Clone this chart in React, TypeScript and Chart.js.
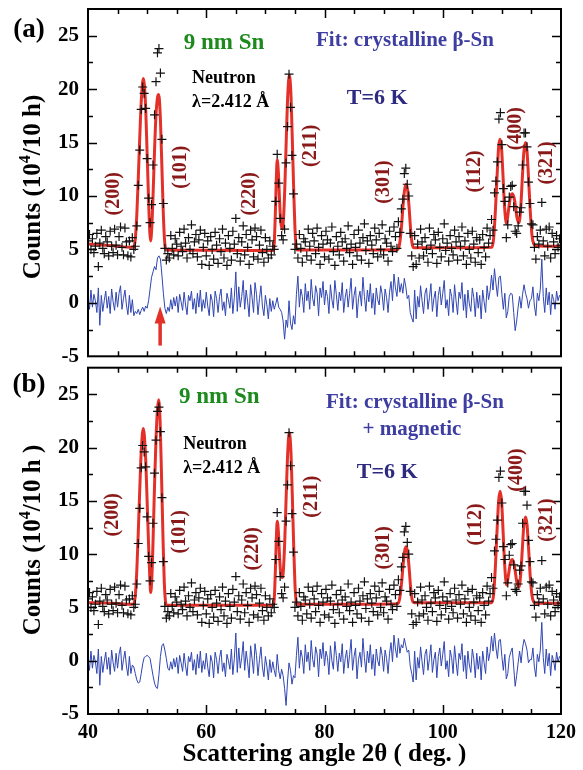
import React, { useEffect, useRef } from "react";
import { Chart, registerables } from "chart.js";

Chart.register(...registerables);

// ---------------- data ----------------
// scan grid: 40 deg to 120 deg in 0.25 deg steps
const SCAN_START = 40;
const SCAN_STEP = 0.25;

// observed neutron counts (10^4 / 10 h) - same measurement in both panels
const observed = [
  5.8, 6.4, 5.0, 6.0, 4.7, 5.3, 6.5, 3.4, 5.6, 6.8, 5.1, 4.6, 6.2, 5.7, 4.4, 6.7, 5.3, 4.7, 6.9, 5.4,
  4.5, 6.2, 7.1, 5.2, 4.5, 7.0, 5.7, 4.4, 5.8, 4.3, 6.1, 5.0, 5.3, 7.2, 11.0, 14.3, 18.1, 20.2, 19.6, 18.2,
  13.5, 9.8, 7.5, 9.2, 12.9, 17.6, 20.7, 23.4, 23.8, 21.5, 15.3, 9.3, 5.1, 4.0, 4.6, 4.2, 6.3, 5.1, 4.5, 6.0,
  5.5, 4.4, 6.6, 5.3, 4.8, 6.9, 5.6, 4.2, 6.1, 5.0, 7.3, 4.6, 5.7, 6.4, 4.3, 5.9, 6.8, 3.6, 5.2, 6.5,
  4.4, 5.8, 3.5, 6.2, 5.0, 4.1, 6.6, 5.4, 3.7, 6.0, 4.8, 6.9, 4.2, 5.6, 3.5, 6.3, 5.1, 4.0, 6.7, 5.5,
  7.9, 4.6, 6.1, 3.9, 5.7, 7.2, 4.5, 6.4, 5.2, 3.6, 6.8, 5.9, 4.3, 7.0, 6.2, 4.1, 5.4, 6.8, 4.7, 3.8,
  6.1, 5.0, 4.2, 5.8, 4.5, 5.3, 5.0, 9.5, 13.9, 11.2, 7.9, 6.3, 5.9, 6.9, 13.1, 16.5, 21.4, 18.3, 13.8, 10.2,
  5.0, 5.5, 4.2, 6.4, 5.1, 3.8, 6.0, 5.7, 4.4, 6.9, 5.3, 4.0, 6.5, 5.8, 4.6, 7.0, 5.2, 3.6, 6.3, 5.5,
  4.3, 6.7, 5.9, 4.1, 5.6, 7.1, 4.8, 3.5, 6.2, 5.3, 4.5, 6.6, 5.7, 3.9, 6.0, 5.1, 7.2, 4.7, 5.5, 3.6,
  6.4, 5.2, 4.4, 6.8, 5.6, 4.0, 6.1, 7.4, 4.9, 5.8, 3.7, 6.3, 5.4, 4.6, 7.0, 5.9, 4.3, 6.5, 5.0, 7.3,
  4.5, 6.0, 5.6, 3.9, 6.7, 5.3, 4.8, 7.1, 6.2, 5.1, 7.6, 6.6, 8.8, 9.7, 12.1, 12.6, 11.1, 10.0, 6.5, 4.4,
  3.4, 6.3, 3.6, 5.5, 4.2, 6.9, 5.7, 4.4, 6.1, 5.0, 3.8, 7.0, 5.4, 4.6, 6.4, 5.9, 3.7, 6.6, 5.2, 4.3,
  6.0, 7.4, 4.9, 5.6, 3.9, 6.3, 5.1, 4.5, 6.8, 5.7, 4.0, 6.2, 5.3, 7.1, 4.4, 5.8, 3.6, 6.5, 5.0, 4.2,
  6.7, 5.5, 3.8, 6.1, 4.7, 5.9, 3.6, 6.4, 5.2, 4.3, 7.0, 5.6, 6.3, 7.8, 6.8, 10.3, 11.4, 13.2, 17.2, 17.8,
  14.8, 10.7, 9.5, 6.1, 7.3, 9.9, 10.9, 11.0, 9.0, 6.7, 6.5, 7.2, 8.5, 8.9, 12.9, 15.9, 15.9, 14.6, 11.3, 9.3,
  7.4, 7.3, 5.2, 4.1, 6.2, 5.5, 6.8, 9.4, 5.8, 4.4, 6.9, 5.3, 7.1, 4.2, 6.5, 5.7, 4.6, 6.3, 5.2, 6.0,
  5.4,
];

// difference curve (obs - calc), panel (a)
const differenceA = [
  0.3, -0.6, 1.2, -0.4, 0.8, 0.2, -0.9, 1.4, -2.1, 0.7, -0.8, 0.2, 1.1, -0.5, 0.6, -1.0, 1.3, 0.1, -0.7, 1.0,
  -0.4, 0.9, 1.6, -0.6, 0.4, 1.2, -0.2, -1.1, 0.7, -0.9, 0.3, -1.2, -0.8, -1.0, -0.6, -1.1, -0.7, -0.4, -0.8, -0.3,
  -0.5, 0.2, 1.3, 2.4, 2.9, 3.4, 3.1, 4.2, 4.4, 4.1, 2.6, 0.9, -0.5, -1.0, -0.4, -0.8, 0.3, -0.6, 0.5, -0.3,
  0.6, -0.9, 0.8, 0.1, -0.7, 1.0, -0.2, -1.1, 0.7, 0.2, 1.1, -0.6, 0.4, -1.0, 0.9, -0.4, 1.2, -0.8, 0.3, -0.5,
  1.0, -0.3, -1.2, 0.8, 0.2, -1.3, 1.1, 0.4, -0.9, 0.6, 1.3, -0.7, 0.1, -1.2, 0.9, 0.3, -0.5, 1.4, -1.0, 0.5,
  2.9, -0.8, 1.5, -0.4, 0.6, 2.1, -0.6, 1.2, 0.1, -1.3, 1.7, 0.5, -0.9, 1.9, 0.8, -1.1, 0.4, 1.6, -0.3, -1.2,
  0.7, -0.2, -1.5, 0.4, -0.8, 0.2, -0.6, -0.1, 0.5, -0.4, -0.6, -0.9, -1.7, -3.4, -1.6, -2.3, 0.2, -1.9, -2.5, -1.2,
  -2.0, 0.8, 2.5, -0.4, 1.3, 0.6, -0.9, 1.8, 0.2, 1.1, -0.6, 2.2, 0.4, -0.3, 1.6, 0.9, -1.2, 1.4, 0.5, 2.0,
  -0.2, 1.2, 0.6, -1.0, 1.7, 0.3, -0.5, 2.1, 0.8, -0.7, 1.0, 0.2, 1.9, -0.9, 0.5, 1.3, -0.4, 0.9, 2.3, -0.6,
  0.7, 1.5, -1.4, 0.4, 1.1, -0.3, 2.4, 0.6, -0.8, 1.2, 0.1, 1.8, -0.5, 0.9, -1.1, 1.4, 0.3, -0.2, 1.6, 0.8,
  -0.7, 1.3, 0.5, -0.9, 1.0, 2.0, 0.2, 2.7, 1.4, 0.6, 2.4, 1.0, 1.8, 0.9, 2.3, 1.5, 0.4, 0.7, -0.9, -1.4,
  -1.8, 1.2, -1.5, 0.6, -0.4, 1.6, 0.2, -1.0, 0.9, 1.4, -0.6, 0.5, 1.8, -0.8, 0.4, 1.1, -1.3, 0.7, 1.5, -0.2,
  0.9, 2.1, -0.5, 0.3, -1.2, 1.3, 0.6, -0.9, 1.7, 0.2, -1.1, 1.0, 0.4, 1.9, -0.7, 0.8, -1.4, 1.2, -0.1, -0.8,
  1.4, 0.5, -1.3, 1.0, -0.5, 0.7, -1.5, 1.2, 0.1, -0.9, 1.6, 0.3, 1.1, 2.6, 1.2, 3.2, 1.8, 0.6, 2.4, 2.5,
  0.8, -0.6, 0.9, -1.4, -0.8, 0.6, 0.9, 0.8, -0.9, -2.6, -1.7, -0.4, 0.6, -0.5, 0.8, 1.7, 0.9, 0.4, -0.5, 0.2,
  0.4, 1.5, -0.3, -1.2, 0.9, 0.2, 1.3, 4.1, 0.6, -0.9, 1.4, -0.2, 1.0, -1.1, 0.8, 0.3, -0.6, 1.1, 0.2, 0.7,
  0.5,
];

// difference curve (obs - calc), panel (b)
const differenceB = [
  0.0, -0.9, 0.9, -0.7, 0.5, -0.1, -1.2, 1.1, -2.3, 0.4, -1.1, -0.1, 0.8, -0.8, 0.3, -1.3, 1.0, -0.2, -1.0, 0.7,
  -0.7, 0.6, 1.3, -0.9, 0.1, 0.9, -0.5, -1.4, 0.4, -1.2, -0.4, -0.6, -1.2, -1.8, -2.1, -2.0, -1.2, -0.3, 0.3, 0.4,
  0.5, 0.4, 0.2, -0.6, -1.4, -2.1, -2.5, -2.6, -1.3, 0.4, 1.4, 1.6, 1.0, 0.2, -0.7, -0.9, -0.1, -0.8, 0.2, -0.6,
  0.3, -1.2, 0.5, -0.2, -1.0, 0.7, -0.5, -1.4, 0.4, -0.1, 0.8, -0.9, 0.1, -1.3, 0.6, -0.7, 0.9, -1.1, 0.0, -0.8,
  0.7, -0.6, -1.5, 0.5, -0.1, -1.6, 0.8, 0.1, -1.2, 0.3, 1.0, -1.0, -0.2, -1.5, 0.6, 0.0, -0.8, 1.1, -1.3, 0.2,
  2.6, -1.1, 1.2, -0.7, 0.3, 1.8, -0.9, 0.9, -0.2, -1.6, 1.4, 0.2, -1.2, 1.6, 0.5, -1.4, 0.1, 1.3, -0.6, -1.5,
  0.4, -0.5, -1.8, 0.1, -1.1, -0.1, -0.9, -1.5, 0.6, -0.9, -1.7, -0.8, -1.4, -2.6, -4.2, -1.9, -0.2, -0.9, -2.2, -1.4,
  -1.6, 0.5, 2.2, -0.7, 1.0, 0.3, -1.2, 1.5, -0.1, 0.8, -0.9, 1.9, 0.1, -0.6, 1.3, 0.6, -1.5, 1.1, 0.2, 1.7,
  -0.5, 0.9, 0.3, -1.3, 1.4, 0.0, -0.8, 1.8, 0.5, -1.0, 0.7, -0.1, 1.6, -1.2, 0.2, 1.0, -0.7, 0.6, 2.0, -0.9,
  0.4, 1.2, -1.7, 0.1, 0.8, -0.6, 2.1, 0.3, -1.1, 0.9, -0.2, 1.5, -0.8, 0.6, -1.4, 1.1, 0.0, -0.5, 1.3, 0.5,
  -1.0, 1.0, 0.2, -1.2, 0.7, 1.7, -0.1, 2.4, 1.1, 0.3, 2.1, 0.7, 1.5, 1.2, 2.1, 1.4, 0.8, 1.0, -0.5, -1.2,
  -2.0, 0.9, -1.8, 0.3, -0.7, 1.3, -0.1, -1.3, 0.6, 1.1, -0.9, 0.2, 1.5, -1.1, 0.1, 0.8, -1.6, 0.4, 1.2, -0.5,
  0.6, 1.8, -0.8, 0.0, -1.5, 1.0, 0.3, -1.2, 1.4, -0.1, -1.4, 0.7, 0.1, 1.6, -1.0, 0.5, -1.7, 0.9, -0.4, -1.1,
  1.1, 0.2, -1.6, 0.7, -0.8, 0.4, -1.8, 0.9, -0.2, -1.2, 1.3, 0.0, 0.8, 2.3, 0.9, 2.6, 1.2, 0.2, 1.9, 2.0,
  0.4, -0.9, 0.6, -1.7, -1.2, 0.3, 0.8, 1.2, -0.6, -2.4, -1.4, -0.2, 0.9, -0.2, 1.2, 2.0, 1.6, 1.0, -0.2, 0.1,
  0.1, 1.2, -0.6, -1.5, 0.6, -0.1, 1.0, 3.6, 0.3, -1.2, 1.1, -0.5, 0.7, -1.4, 0.5, 0.0, -0.9, 0.8, -0.1, 0.4,
  0.2,
];

// fitted profile, panel (a): [angle, counts]
const fitA: [number, number][] = [
  [40, 5.5], [44, 5.35], [47.5, 5.2], [47.75, 5.25], [48.0, 6.0], [48.25, 8.2], [48.5, 11.6], [48.75, 15.4],
  [49.0, 18.8], [49.35, 21.0], [49.7, 18.9], [50.0, 14.0], [50.25, 9.6], [50.45, 6.6], [50.6, 5.8], [50.8, 7.2],
  [51.0, 10.0], [51.25, 14.2], [51.5, 17.6], [51.75, 19.2], [51.95, 19.5], [52.2, 17.8], [52.45, 13.6], [52.7, 9.0],
  [52.9, 6.3], [53.1, 5.1], [53.3, 4.95], [62, 4.92], [71.3, 4.9], [71.5, 5.6], [71.7, 8.6], [71.85, 11.6],
  [72.0, 13.4], [72.2, 12.2], [72.4, 9.6], [72.6, 7.6], [72.9, 6.9], [73.1, 8.2], [73.3, 11.0], [73.55, 15.6],
  [73.8, 19.6], [74.05, 21.3], [74.3, 19.8], [74.55, 15.4], [74.8, 10.4], [75.0, 7.0], [75.2, 5.3], [75.4, 4.95],
  [84, 4.95], [92.4, 5.0], [92.7, 5.5], [93.0, 7.0], [93.3, 9.2], [93.55, 10.6], [93.8, 11.1], [94.05, 10.6],
  [94.3, 9.0], [94.55, 7.0], [94.8, 5.6], [95.0, 5.2], [95.2, 5.15], [102, 5.15], [108.3, 5.2], [108.6, 6.0],
  [108.9, 8.6], [109.2, 12.0], [109.45, 14.6], [109.7, 15.3], [109.95, 14.4], [110.2, 11.8], [110.45, 9.0], [110.8, 7.4],
  [111.1, 8.6], [111.45, 9.9], [111.8, 10.2], [112.15, 9.6], [112.55, 8.0], [112.9, 7.5], [113.2, 9.0], [113.45, 11.6],
  [113.7, 14.0], [114.0, 15.0], [114.25, 14.2], [114.5, 11.8], [114.8, 8.6], [115.1, 6.3], [115.4, 5.5], [115.7, 5.35],
  [120, 5.3],
];

// fitted profile, panel (b): [angle, counts]
const fitB: [number, number][] = [
  [40, 5.45], [44, 5.4], [47.5, 5.3], [47.75, 5.35], [48.0, 6.1], [48.25, 8.4], [48.5, 12.0], [48.75, 16.0],
  [49.0, 19.6], [49.35, 21.8], [49.7, 19.6], [50.0, 15.0], [50.25, 10.8], [50.45, 7.8], [50.6, 6.4], [50.8, 7.8],
  [51.0, 11.2], [51.25, 16.4], [51.5, 20.8], [51.75, 23.6], [51.95, 24.5], [52.2, 22.4], [52.45, 17.0], [52.7, 11.2],
  [52.9, 7.4], [53.1, 5.6], [53.3, 5.2], [62, 5.2], [71.3, 5.2], [71.5, 5.8], [71.7, 8.6], [71.85, 11.4],
  [72.0, 13.1], [72.2, 12.1], [72.4, 9.8], [72.6, 8.2], [72.9, 7.8], [73.1, 9.0], [73.3, 11.6], [73.55, 16.0],
  [73.8, 19.8], [74.05, 21.4], [74.3, 19.9], [74.55, 15.6], [74.8, 10.6], [75.0, 7.2], [75.2, 5.6], [75.4, 5.3],
  [84, 5.3], [92.4, 5.35], [92.7, 5.8], [93.0, 7.1], [93.3, 9.0], [93.55, 10.3], [93.8, 10.7], [94.05, 10.2],
  [94.3, 8.8], [94.55, 7.0], [94.8, 5.8], [95.0, 5.5], [95.2, 5.45], [102, 5.45], [108.3, 5.45], [108.6, 6.2],
  [108.9, 8.8], [109.2, 12.4], [109.45, 15.0], [109.7, 15.9], [109.95, 15.0], [110.2, 12.2], [110.45, 9.2], [110.8, 7.1],
  [111.1, 8.0], [111.45, 9.2], [111.8, 9.5], [112.15, 8.8], [112.55, 7.3], [112.9, 6.9], [113.2, 8.2], [113.45, 10.4],
  [113.7, 12.6], [114.0, 13.5], [114.25, 12.8], [114.5, 10.7], [114.8, 7.9], [115.1, 6.1], [115.4, 5.5], [115.7, 5.4],
  [120, 5.4],
];

// reflection labels
const reflections = ["(200)", "(101)", "(220)", "(211)", "(301)", "(112)", "(400)", "(321)"];

// ---------------- styling / layout ----------------
const SERIF = '"Liberation Serif", "Times New Roman", Times, serif';
const RED = "#e3312a";
const DIFF_BLUE = "#3046b2";
const GREEN = "#1c8a1c";
const FIT_BLUE = "#3d3da2";
const NAVY = "#2d2a80";
const PEAK_RED = "#8a1a1a";

type Ann = { text: string; x: number; y: number; color: string; size: number; align?: CanvasTextAlign };

const textA: Ann[] = [
  { text: "9 nm Sn", x: 63.0, y: 24.3, color: GREEN, size: 23 },
  { text: "Neutron", x: 57.6, y: 21.0, color: "#000", size: 18, align: "left" },
  { text: "λ=2.412 Å", x: 57.6, y: 18.8, color: "#000", size: 18, align: "left" },
  { text: "Fit: crystalline β-Sn", x: 93.6, y: 24.5, color: FIT_BLUE, size: 21 },
  { text: "T=6 K", x: 88.9, y: 19.1, color: NAVY, size: 22 },
];
const textB: Ann[] = [
  { text: "9 nm Sn", x: 62.2, y: 24.7, color: GREEN, size: 23 },
  { text: "Neutron", x: 56.1, y: 20.3, color: "#000", size: 18, align: "left" },
  { text: "λ=2.412 Å", x: 56.1, y: 18.1, color: "#000", size: 18, align: "left" },
  { text: "Fit: crystalline β-Sn", x: 95.3, y: 24.2, color: FIT_BLUE, size: 21 },
  { text: "+ magnetic", x: 94.8, y: 21.7, color: FIT_BLUE, size: 21 },
  { text: "T=6 K", x: 90.6, y: 17.7, color: NAVY, size: 22 },
];
const peakPosA: [number, number][] = [
  [44.4, 10.2], [55.7, 12.7], [67.4, 10.2], [77.7, 14.7], [90.1, 11.3], [105.5, 12.3], [112.4, 16.3], [117.6, 13.1],
];
const peakPosB: [number, number][] = [
  [44.2, 13.7], [55.6, 12.1], [67.9, 10.5], [77.9, 15.4], [90.1, 10.6], [105.6, 12.8], [112.6, 17.9], [117.6, 13.2],
];

type Decor = {
  texts: Ann[];
  peaks: [number, number][];
  panelLabel: string;
  panelLabelAt: [number, number];
  yTitle: [string, string, string];
  yTitleAt: [number, number];
  arrow?: { x: number; tip: number; tail: number };
};

function decorPlugin(d: Decor) {
  return {
    id: "decor",
    afterDraw(chart: any) {
      const { ctx, chartArea: a, scales } = chart;
      const sx = scales.x;
      const sy = scales.y;
      ctx.save();
      // frame
      ctx.strokeStyle = "#000";
      ctx.lineWidth = 2;
      ctx.strokeRect(a.left, a.top, a.right - a.left, a.bottom - a.top);
      // inward ticks
      ctx.lineWidth = 1.5;
      ctx.beginPath();
      for (let v = 45; v < 120; v += 5) {
        const px = Math.round(sx.getPixelForValue(v)) + 0.5;
        const L = v % 20 === 0 ? 9 : 5;
        ctx.moveTo(px, a.bottom);
        ctx.lineTo(px, a.bottom - L);
        ctx.moveTo(px, a.top);
        ctx.lineTo(px, a.top + L);
      }
      for (let v = -2.5; v <= 25.01; v += 2.5) {
        const py = Math.round(sy.getPixelForValue(v)) + 0.5;
        const L = Math.abs(v % 5) < 0.01 ? 9 : 5;
        ctx.moveTo(a.left, py);
        ctx.lineTo(a.left + L, py);
        ctx.moveTo(a.right, py);
        ctx.lineTo(a.right - L, py);
      }
      ctx.stroke();

      // annotations
      ctx.textBaseline = "middle";
      for (const t of d.texts) {
        ctx.font = `bold ${t.size}px ${SERIF}`;
        ctx.fillStyle = t.color;
        ctx.textAlign = t.align || "center";
        ctx.fillText(t.text, sx.getPixelForValue(t.x), sy.getPixelForValue(t.y));
      }
      // reflection labels (rotated)
      ctx.font = `bold 20px ${SERIF}`;
      ctx.fillStyle = PEAK_RED;
      ctx.textAlign = "center";
      d.peaks.forEach((p, i) => {
        ctx.save();
        ctx.translate(sx.getPixelForValue(p[0]), sy.getPixelForValue(p[1]));
        ctx.rotate(-Math.PI / 2);
        ctx.fillText(reflections[i], 0, 0);
        ctx.restore();
      });

      // arrow
      if (d.arrow) {
        const ax = sx.getPixelForValue(d.arrow.x);
        const tipY = sy.getPixelForValue(d.arrow.tip);
        const tailY = sy.getPixelForValue(d.arrow.tail);
        ctx.strokeStyle = RED;
        ctx.fillStyle = RED;
        ctx.lineWidth = 3.5;
        ctx.beginPath();
        ctx.moveTo(ax, tailY);
        ctx.lineTo(ax, tipY + 12);
        ctx.stroke();
        ctx.beginPath();
        ctx.moveTo(ax, tipY);
        ctx.lineTo(ax - 5.5, tipY + 17);
        ctx.lineTo(ax + 5.5, tipY + 17);
        ctx.closePath();
        ctx.fill();
      }

      // panel label
      ctx.fillStyle = "#000";
      ctx.font = `bold 27px ${SERIF}`;
      ctx.textAlign = "center";
      ctx.textBaseline = "middle";
      ctx.fillText(d.panelLabel, d.panelLabelAt[0], d.panelLabelAt[1]);

      // y title with superscript
      const big = `bold 25px ${SERIF}`;
      const small = `bold 16px ${SERIF}`;
      ctx.font = big;
      const w1 = ctx.measureText(d.yTitle[0]).width;
      const w3 = ctx.measureText(d.yTitle[2]).width;
      ctx.font = small;
      const w2 = ctx.measureText(d.yTitle[1]).width;
      ctx.save();
      ctx.translate(d.yTitleAt[0], d.yTitleAt[1]);
      ctx.rotate(-Math.PI / 2);
      ctx.textAlign = "left";
      ctx.textBaseline = "alphabetic";
      const start = -(w1 + w2 + w3) / 2;
      const base = 8;
      ctx.font = big;
      ctx.fillText(d.yTitle[0], start, base);
      ctx.font = small;
      ctx.fillText(d.yTitle[1], start + w1, base - 10);
      ctx.font = big;
      ctx.fillText(d.yTitle[2], start + w1 + w2, base);
      ctx.restore();

      ctx.restore();
    },
  };
}

function buildConfig(panel: "a" | "b"): any {
  const angles = observed.map((_, i) => SCAN_START + i * SCAN_STEP);
  const diff = panel === "a" ? differenceA : differenceB;
  const fit = panel === "a" ? fitA : fitB;
  const decor: Decor =
    panel === "a"
      ? {
          texts: textA,
          peaks: peakPosA,
          panelLabel: "(a)",
          panelLabelAt: [29, 30],
          yTitle: ["Counts (10", "4", "/10 h)"],
          yTitleAt: [32, 187],
          arrow: { x: 52.2, tip: -0.35, tail: -4.0 },
        }
      : {
          texts: textB,
          peaks: peakPosB,
          panelLabel: "(b)",
          panelLabelAt: [29, 23],
          yTitle: ["Counts (10", "4", "/10 h )"],
          yTitleAt: [32, 178],
        };

  const tickFont = { family: SERIF, weight: "bold", size: 21 };
  const showX = panel === "b";
  return {
    type: "scatter",
    data: {
      datasets: [
        {
          label: "observed",
          data: observed.map((v, i) => ({ x: angles[i], y: v })),
          showLine: false,
          pointStyle: "cross",
          pointRadius: 4.5,
          pointBorderWidth: 1.2,
          borderColor: "#111",
          backgroundColor: "#111",
        },
        {
          label: "fit",
          data: fit.map((p) => ({ x: p[0], y: p[1] })),
          showLine: true,
          borderColor: RED,
          borderWidth: 3,
          pointRadius: 0,
          cubicInterpolationMode: "monotone",
        },
        {
          label: "difference",
          data: diff.map((v, i) => ({ x: angles[i], y: v })),
          showLine: true,
          borderColor: DIFF_BLUE,
          borderWidth: 1,
          pointRadius: 0,
          tension: 0,
        },
      ],
    },
    options: {
      animation: false,
      responsive: false,
      devicePixelRatio: 1,
      events: [],
      layout: {
        padding: showX ? { left: 0, right: 22, top: 4, bottom: 0 } : { left: 0, right: 22, top: 9, bottom: 4 },
      },
      plugins: { legend: { display: false }, tooltip: { enabled: false }, title: { display: false } },
      scales: {
        x: {
          type: "linear",
          min: 40,
          max: 120,
          display: showX,
          grid: { display: false, drawTicks: false },
          border: { display: false },
          ticks: {
            stepSize: 20,
            font: { family: SERIF, weight: "bold", size: 20 },
            color: "#000",
            padding: 7,
            maxRotation: 0,
          },
          title: {
            display: showX,
            text: "Scattering angle 2θ ( deg. )",
            font: { family: SERIF, weight: "bold", size: 25 },
            color: "#000",
            padding: { top: 0, bottom: 0 },
          },
          afterFit: (s: any) => {
            s.height = showX ? 56 : 0;
            s.paddingLeft = 0;
            s.paddingRight = 0;
          },
        },
        y: {
          min: -5,
          max: 27.5,
          grid: { display: false, drawTicks: false },
          border: { display: false },
          ticks: { stepSize: 5, includeBounds: false, font: tickFont, color: "#000", padding: 9 },
          afterFit: (s: any) => {
            s.width = 88;
            s.paddingTop = 0;
            s.paddingBottom = 0;
          },
        },
      },
    },
    plugins: [decorPlugin(decor)],
  };
}

export default function App() {
  const refA = useRef<HTMLCanvasElement>(null);
  const refB = useRef<HTMLCanvasElement>(null);
  useEffect(() => {
    const ca = new Chart(refA.current as HTMLCanvasElement, buildConfig("a"));
    const cb = new Chart(refB.current as HTMLCanvasElement, buildConfig("b"));
    return () => {
      ca.destroy();
      cb.destroy();
    };
  }, []);
  return (
    <div style={{ position: "absolute", left: 0, top: 0, width: 583, height: 770, background: "#fff" }}>
      <canvas
        ref={refA}
        width={583}
        height={362}
        style={{ position: "absolute", left: 0, top: 0, width: 583, height: 362 }}
      />
      <canvas
        ref={refB}
        width={583}
        height={408}
        style={{ position: "absolute", left: 0, top: 362, width: 583, height: 408 }}
      />
    </div>
  );
}
